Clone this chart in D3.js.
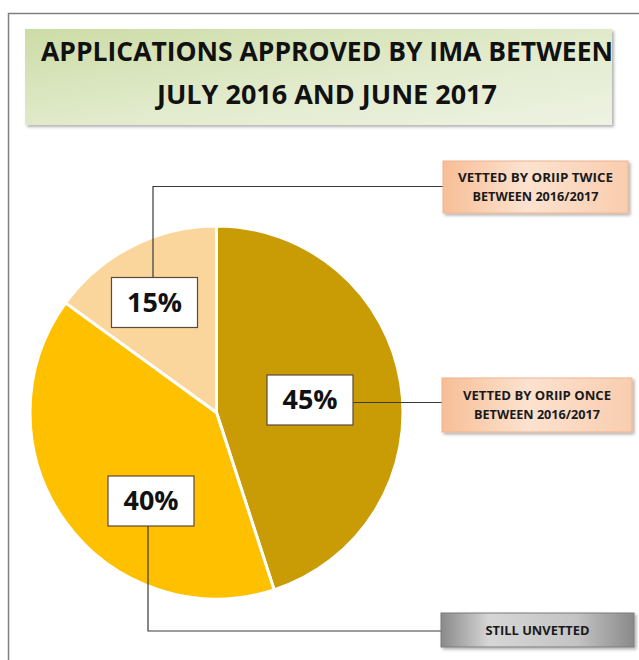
<!DOCTYPE html>
<html>
<head>
<meta charset="utf-8">
<script src="https://cdn.jsdelivr.net/npm/d3@7"></script>
<style>
  html, body { margin: 0; padding: 0; background: #fff; }
  svg { display: block; }
</style>
</head>
<body>
<div id="chart"></div>
<script>
// slice data, in drawing order (clockwise from 12 o'clock)
const categories = ["VETTED BY ORIIP ONCE BETWEEN 2016/2017", "STILL UNVETTED", "VETTED BY ORIIP TWICE BETWEEN 2016/2017"];
const values = [45, 40, 15];
const sliceColors = ["#C99B04", "#FFC000", "#FBD69C"];
const titleLines = ["APPLICATIONS APPROVED BY IMA BETWEEN", "JULY 2016 AND JUNE 2017"];
const legendLines = [
  ["VETTED BY ORIIP ONCE", "BETWEEN 2016/2017"],
  ["STILL UNVETTED"],
  ["VETTED BY ORIIP TWICE", "BETWEEN 2016/2017"]
];

const width = 639, height = 660;
const cx = 216.5, cy = 412.5, radius = 186.5;

// where the moved percentage labels and the callout boxes sit (layout, not data)
const pctPos = [[310, 400], [151, 501], [154.5, 302.5]];
const calloutBox = [
  { x: 442, y: 378, w: 190, h: 54, fill: "url(#orangeGrad)", stroke: "#EDB48F" },
  { x: 441, y: 613, w: 193, h: 34, fill: "url(#grayGrad)", stroke: "#7a7a7a" },
  { x: 443, y: 161, w: 185, h: 52, fill: "url(#orangeGrad)", stroke: "#EDB48F" }
];

const svg = d3.select("#chart").append("svg")
    .attr("width", width)
    .attr("height", height)
    .style("font-family", "'Open Sans', Lato, sans-serif");

const defs = svg.append("defs");

const tg = defs.append("linearGradient").attr("id", "titleGrad")
    .attr("x1", "0%").attr("y1", "0%").attr("x2", "100%").attr("y2", "100%");
tg.append("stop").attr("offset", "0%").attr("stop-color", "#CCDCA6");
tg.append("stop").attr("offset", "55%").attr("stop-color", "#E2EBCD");
tg.append("stop").attr("offset", "100%").attr("stop-color", "#EEF3E3");

const og = defs.append("linearGradient").attr("id", "orangeGrad")
    .attr("x1", "0%").attr("y1", "0%").attr("x2", "100%").attr("y2", "0%");
og.append("stop").attr("offset", "0%").attr("stop-color", "#F7BE96");
og.append("stop").attr("offset", "45%").attr("stop-color", "#FCE2CF");
og.append("stop").attr("offset", "100%").attr("stop-color", "#F9CDAF");

const gg = defs.append("linearGradient").attr("id", "grayGrad")
    .attr("x1", "0%").attr("y1", "0%").attr("x2", "100%").attr("y2", "0%");
gg.append("stop").attr("offset", "0%").attr("stop-color", "#8a8a8a");
gg.append("stop").attr("offset", "25%").attr("stop-color", "#d6d6d6");
gg.append("stop").attr("offset", "70%").attr("stop-color", "#c4c4c4");
gg.append("stop").attr("offset", "100%").attr("stop-color", "#8a8a8a");

const shadow = defs.append("filter").attr("id", "shadow")
    .attr("x", "-5%").attr("y", "-10%").attr("width", "115%").attr("height", "130%");
shadow.append("feDropShadow").attr("dx", 2).attr("dy", 2).attr("stdDeviation", 1.5)
    .attr("flood-color", "#000").attr("flood-opacity", 0.3);

// outer chart border (runs off the right / bottom of the picture)
svg.append("rect")
    .attr("x", 8.5).attr("y", 13.5)
    .attr("width", 700).attr("height", 700)
    .attr("fill", "none")
    .attr("stroke", "#7f7f7f")
    .attr("stroke-width", 1.5);

// title box
svg.append("rect")
    .attr("x", 25).attr("y", 29)
    .attr("width", 587).attr("height", 96)
    .attr("fill", "url(#titleGrad)")
    .attr("filter", "url(#shadow)");

svg.append("g").selectAll("text")
    .data(titleLines)
    .join("text")
    .attr("x", 327)
    .attr("y", (d, i) => 61 + i * 43)
    .attr("text-anchor", "middle")
    .attr("font-size", 26)
    .attr("font-weight", "bold")
    .attr("fill", "#111")
    .attr("textLength", (d, i) => i === 0 ? 572 : 340)
    .attr("lengthAdjust", "spacingAndGlyphs")
    .text(d => d);

// pie
const pie = d3.pie().sort(null).value(d => d);
const arc = d3.arc().innerRadius(0).outerRadius(radius);
const arcs = pie(values);

svg.append("g")
    .attr("transform", `translate(${cx},${cy})`)
    .selectAll("path")
    .data(arcs)
    .join("path")
    .attr("d", arc)
    .attr("fill", (d, i) => sliceColors[i])
    .attr("stroke", "#fff")
    .attr("stroke-width", 3);

// leader lines from the percentage boxes to the callouts
const pctW = 86, pctH = 50;
const leaders = [
  // 45%: straight right
  i => [[pctPos[i][0] + pctW / 2, 402.5], [calloutBox[i].x, 402.5]],
  // 40%: down then right
  i => [[148, pctPos[i][1] + pctH / 2], [148, 631], [calloutBox[i].x, 631]],
  // 15%: up then right
  i => [[153, pctPos[i][1] - pctH / 2], [153, 186.5], [calloutBox[i].x, 186.5]]
];
svg.append("g")
    .attr("fill", "none")
    .attr("stroke", "#3a3a3a")
    .attr("stroke-width", 1.2)
    .selectAll("path")
    .data(values)
    .join("path")
    .attr("d", (d, i) => d3.line()(leaders[i](i)));

// percentage boxes
const pct = svg.append("g").selectAll("g")
    .data(values)
    .join("g")
    .attr("transform", (d, i) => `translate(${pctPos[i][0]},${pctPos[i][1]})`);
pct.append("rect")
    .attr("x", -pctW / 2).attr("y", -pctH / 2)
    .attr("width", pctW).attr("height", pctH)
    .attr("fill", "#fff")
    .attr("stroke", "#5a4a3a")
    .attr("stroke-width", 1.2);
pct.append("text")
    .attr("text-anchor", "middle")
    .attr("dy", "0.36em")
    .attr("font-size", 26)
    .attr("font-weight", "bold")
    .attr("fill", "#111")
    .attr("textLength", 55)
    .attr("lengthAdjust", "spacingAndGlyphs")
    .text(d => d + "%");

// callout (category) boxes
const call = svg.append("g").selectAll("g")
    .data(categories)
    .join("g")
    .attr("transform", (d, i) => `translate(${calloutBox[i].x},${calloutBox[i].y})`);
call.append("rect")
    .attr("width", (d, i) => calloutBox[i].w)
    .attr("height", (d, i) => calloutBox[i].h)
    .attr("fill", (d, i) => calloutBox[i].fill)
    .attr("stroke", (d, i) => calloutBox[i].stroke)
    .attr("stroke-width", 1)
    .attr("filter", "url(#shadow)");
call.each(function (d, i) {
  const lines = legendLines[i];
  const b = calloutBox[i];
  d3.select(this).selectAll("text")
      .data(lines)
      .join("text")
      .attr("x", b.w / 2)
      .attr("y", (t, j) => b.h / 2 + (j - (lines.length - 1) / 2) * 19)
      .attr("dy", "0.36em")
      .attr("text-anchor", "middle")
      .attr("font-size", 13)
      .attr("font-weight", "bold")
      .attr("fill", "#1a1a1a")
      .attr("textLength", (t, j) => Math.round(t.length * 7.4))
      .attr("lengthAdjust", "spacingAndGlyphs")
      .text(t => t);
});
</script>
</body>
</html>
